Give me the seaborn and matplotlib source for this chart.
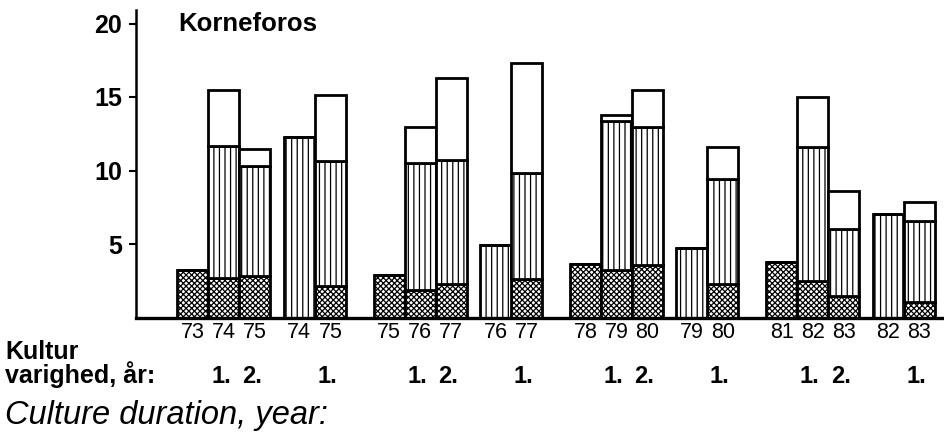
import matplotlib
matplotlib.use("Agg")
import matplotlib.pyplot as plt
import matplotlib.transforms as mtransforms
import numpy as np
import pandas as pd
import seaborn as sns

# ---- data -------------------------------------------------------------
years = ["73", "74", "75", "74", "75",
         "75", "76", "77", "76", "77",
         "78", "79", "80", "79", "80",
         "81", "82", "83", "82", "83"]
group_sizes = [3, 2, 3, 2, 3, 2, 3, 2]
# segment heights (stacked from bottom)
dark_part = [3.2, 2.7, 2.8, 0.0, 2.15,
             2.9, 1.9, 2.3, 0.0, 2.65,
             3.65, 3.2, 3.55, 0.0, 2.25,
             3.75, 2.45, 1.45, 0.0, 1.05]
striped_part = [0.0, 8.95, 7.5, 12.3, 8.5,
                0.0, 8.6, 8.4, 4.9, 7.15,
                0.0, 10.15, 9.4, 4.75, 7.15,
                0.0, 9.15, 4.6, 7.05, 5.5]
white_part = [0.0, 3.8, 1.15, 0.0, 4.5,
              0.0, 2.45, 5.6, 0.0, 7.5,
              0.0, 0.4, 2.5, 0.0, 2.2,
              0.0, 3.4, 2.55, 0.0, 1.3]
duration = ["", "1.", "2.", "", "1.",
            "", "1.", "2.", "", "1.",
            "", "1.", "2.", "", "1.",
            "", "1.", "2.", "", "1."]
y_ticks = [5, 10, 15, 20]
title = "Korneforos"
row_label = "Kultur\nvarighed, år:"
en_label = "Culture duration, year:"

# ---- layout -----------------------------------------------------------
small_gap = 0.43
large_gap = 0.90
pos = []
cur = 0.0
for gi, n in enumerate(group_sizes):
    for k in range(n):
        pos.append(cur + k)
    cur += n + (small_gap if gi % 2 == 0 else large_gap)
pos = np.array(pos)

df = pd.DataFrame({"x": pos, "dark": dark_part, "striped": striped_part,
                   "white": white_part})
b1 = np.array(dark_part)
b2 = b1 + np.array(striped_part)

sns.set_style("white")
plt.rcParams["font.family"] = ["Liberation Sans", "DejaVu Sans"]
plt.rcParams["hatch.linewidth"] = 0.9
plt.rcParams["hatch.color"] = "black"

W, H = 945, 438
fig = plt.figure(figsize=(W / 100, H / 100), dpi=100)
y0 = 317.5
ppu = 14.7
ax = fig.add_axes([136 / W, (H - y0) / H, 809 / W, (y0 - 10) / H])

common = dict(native_scale=True, width=1.0, errorbar=None, ax=ax,
              color="white", edgecolor="black", linewidth=2.0)
sns.barplot(data=df, x="x", y="dark", hatch="xxxxxx", **common)
sns.barplot(data=df, x="x", y="striped", bottom=b1, hatch="|||", **common)
sns.barplot(data=df, x="x", y="white", bottom=b2, **common)

ax.set_xlim((136 - 193) / 31, (945 - 193) / 31)
ax.set_ylim(0, (y0 - 10) / ppu)
ax.set_xlabel("")
ax.set_ylabel("")

for s in ["top", "right"]:
    ax.spines[s].set_visible(False)
ax.spines["left"].set_linewidth(1.8)
ax.spines["bottom"].set_linewidth(2.4)
ax.spines["left"].set_color("black")
ax.spines["bottom"].set_color("black")

ax.set_yticks(y_ticks)
ax.set_yticklabels([str(v) for v in y_ticks], fontsize=18, fontweight="bold")
ax.tick_params(axis="y", direction="out", length=5, width=1.5, pad=5,
               left=True, colors="black")

ax.set_xticks(pos)
ax.set_xticklabels(years, fontsize=15.5, family=["Liberation Sans", "DejaVu Sans"])
ax.tick_params(axis="x", length=0, pad=3, colors="black")

trans = mtransforms.blended_transform_factory(ax.transData, fig.transFigure)
for xp, lab in zip(pos, duration):
    if lab:
        ax.text(xp - 0.1, 1 - 383 / H, lab, transform=trans, ha="center",
                va="baseline", fontsize=17, fontweight="bold", color="black")

fig.text(178 / W, 1 - 12 / H, title, ha="left", va="top", fontsize=18.5,
         fontweight="bold", color="black")
fig.text(5 / W, 1 - 383 / H, row_label, ha="left", va="baseline",
         fontsize=18, fontweight="bold", color="black", linespacing=0.85)
fig.text(5 / W, 1 - 424 / H, en_label, ha="left", va="baseline",
         fontsize=23.5, style="italic", color="black")

fig.savefig("out.png", dpi=100)
